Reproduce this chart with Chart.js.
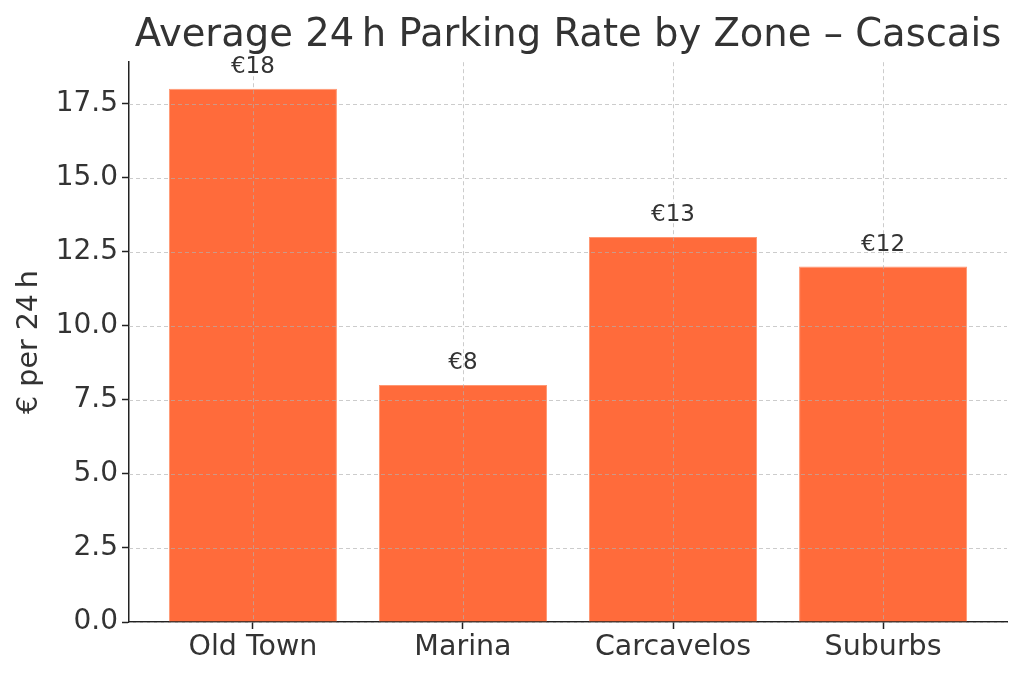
<!DOCTYPE html>
<html>
<head>
<meta charset="utf-8">
<script src="https://cdn.jsdelivr.net/npm/chart.js@4"></script>
<style>
  html, body { margin: 0; padding: 0; background: #fff; }
  #wrap { width: 1024px; height: 677px; }
</style>
</head>
<body>
<div id="wrap"><canvas id="chart"></canvas></div>
<script>
// данные графика
const zones = ['Old Town', 'Marina', 'Carcavelos', 'Suburbs'];
const rates = [18, 8, 13, 12];
const yTicks = [0, 2.5, 5, 7.5, 10, 12.5, 15, 17.5];

const FONT = "'DejaVu Sans', sans-serif";
const TEXT = '#333333';
const AXIS = '#222222';

// сетка поверх столбцов, как в matplotlib
const gridOnTop = {
    id: 'gridOnTop',
    afterDatasetsDraw(chart) {
        const { ctx, chartArea: a, scales: { x, y } } = chart;
        ctx.save();
        ctx.strokeStyle = 'rgba(176,176,176,0.65)';
        ctx.lineWidth = 1;
        ctx.setLineDash([4, 3]);
        y.ticks.forEach(t => {
            const py = Math.round(y.getPixelForValue(t.value)) + 0.5;
            ctx.beginPath(); ctx.moveTo(a.left, py); ctx.lineTo(a.right, py); ctx.stroke();
        });
        x.ticks.forEach(t => {
            const px = Math.round(x.getPixelForValue(t.value)) + 0.5;
            ctx.beginPath(); ctx.moveTo(px, a.top); ctx.lineTo(px, a.bottom); ctx.stroke();
        });
        ctx.restore();
    }
};

// подписи значений над столбцами
const valueLabels = {
    id: 'valueLabels',
    afterDatasetsDraw(chart) {
        const { ctx, scales: { x, y } } = chart;
        ctx.save();
        ctx.font = '23px ' + FONT;
        ctx.fillStyle = TEXT;
        ctx.textAlign = 'center';
        ctx.textBaseline = 'alphabetic';
        rates.forEach((v, i) => {
            ctx.fillText('€' + v, x.getPixelForValue(i), y.getPixelForValue(v) - 16);
        });
        ctx.restore();
    }
};

new Chart(document.getElementById('chart'), {
    type: 'bar',
    data: {
        datasets: [{
            data: rates.map((v, i) => ({ x: i, y: v })),
            backgroundColor: '#FF6B3B',
            borderColor: 'rgba(255,140,100,0.9)',
            borderWidth: 1,
            barPercentage: 0.8,
            categoryPercentage: 1
        }]
    },
    options: {
        responsive: true,
        maintainAspectRatio: false,
        animation: false,
        layout: { padding: { left: 0, right: 17, top: 0, bottom: 0 } },
        plugins: {
            legend: { display: false },
            tooltip: { enabled: false },
            title: {
                display: true,
                fullSize: false,
                text: 'Average 24\u2009h Parking Rate by Zone – Cascais',
                color: TEXT,
                font: { family: FONT, size: 38.5, weight: 'normal', lineHeight: 1.2 },
                padding: { top: 13, bottom: 3 }
            }
        },
        scales: {
            x: {
                type: 'linear',
                offset: false,
                min: -0.59,
                max: 3.59,
                afterBuildTicks: s => { s.ticks = zones.map((_, i) => ({ value: i })); },
                afterFit: s => { s.height = 55; },
                grid: { display: true, offset: false, drawOnChartArea: false, drawTicks: true, tickLength: 7, color: AXIS, tickWidth: 1.5 },
                border: { display: true, color: AXIS, width: 1.5 },
                ticks: {
                    color: TEXT,
                    padding: 1,
                    font: { family: FONT, size: 28.5 },
                    callback: v => zones[v],
                    maxRotation: 0,
                    autoSkip: false
                }
            },
            y: {
                min: 0,
                max: 18.9,
                afterBuildTicks: s => { s.ticks = yTicks.map(v => ({ value: v })); },
                afterFit: s => { s.width = 129; },
                grid: { display: true, drawOnChartArea: false, drawTicks: true, tickLength: 7, color: AXIS, tickWidth: 1.5 },
                border: { display: true, color: AXIS, width: 1.5 },
                ticks: {
                    color: TEXT,
                    padding: 4,
                    font: { family: FONT, size: 28 },
                    callback: v => v.toFixed(1)
                },
                title: {
                    display: true,
                    text: '€ per 24\u2009h',
                    color: TEXT,
                    font: { family: FONT, size: 28.5 },
                    padding: { top: 12, bottom: 0 }
                }
            }
        }
    },
    plugins: [gridOnTop, valueLabels]
});
</script>
</body>
</html>
